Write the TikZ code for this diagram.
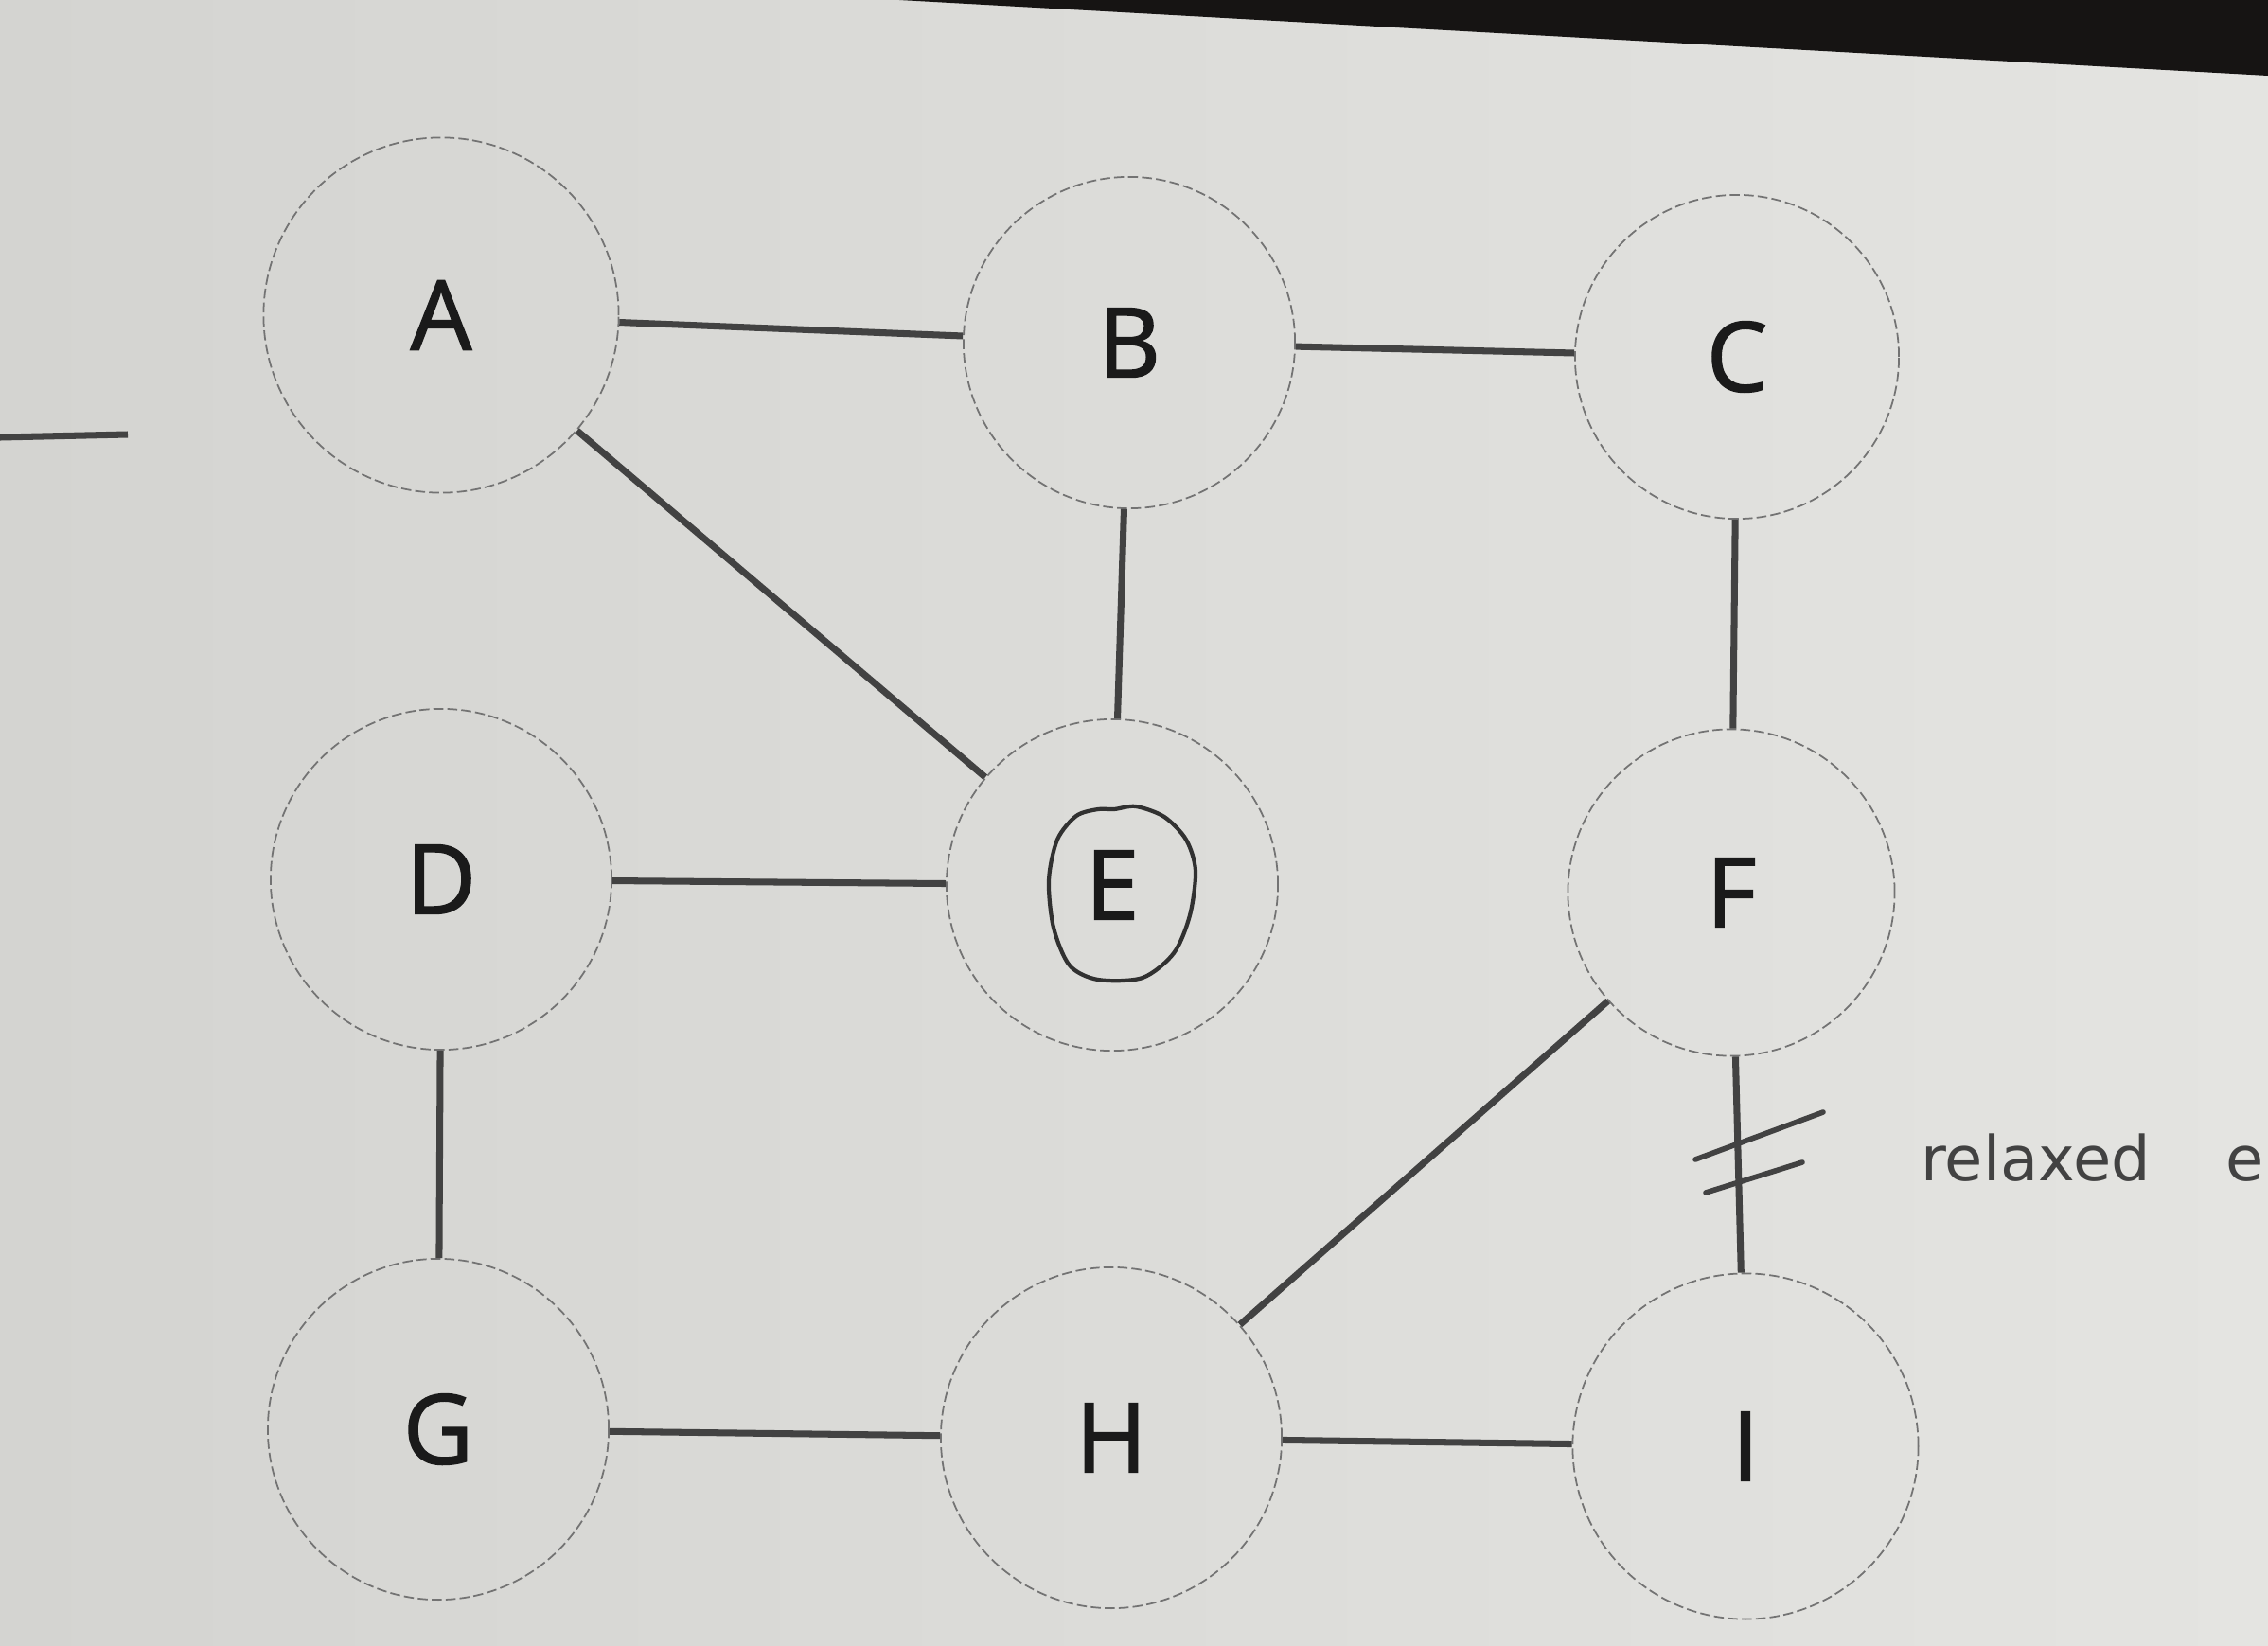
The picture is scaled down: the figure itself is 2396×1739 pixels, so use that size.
\documentclass[tikz,border=0pt]{standalone}
\usepackage{fontspec}
\setmainfont{Open Sans}
\newfontfamily\labelfont[FakeBold=1.6]{Open Sans}
\newfontfamily\handfont{DejaVu Sans}
\usetikzlibrary{arrows,calc}
\tikzset{>=latex}
\definecolor{paper}{RGB}{228,228,225}
\definecolor{paperdark}{RGB}{212,212,209}
\definecolor{pencil}{RGB}{66,66,66}
\definecolor{ink}{RGB}{26,26,26}
\definecolor{backdrop}{RGB}{22,20,19}
\tikzset{vertex/.style={draw=black!55, circle, dash pattern=on 3pt off 1.2pt, line width=0.5pt, minimum size=3.5cm, inner sep=0pt, text=ink, font=\labelfont\fontsize{29}{30}\selectfont}}
\tikzset{link/.style={draw=pencil, line width=2pt}}

\begin{document}
\begin{tikzpicture}[x=0.01cm, y=-0.01cm]
    \useasboundingbox (0,0) rectangle (2396,1739);
    \clip (0,0) rectangle (2396,1739);
    \shade [left color=paperdark, right color=paper] (0,0) rectangle (2396,1739);
    \fill [backdrop] (950,0) -- (2396,0) -- (2396,80) -- cycle;
    \node [vertex, minimum size=3.75cm](A) at (466,333) {A};
    \node [vertex](B) at (1193,362) {B};
    \node [vertex, minimum size=3.42cm](C) at (1835,377) {C};
    \node [vertex, minimum size=3.6cm](D) at (466,929) {D};
    \node [vertex](E) at (1175,935) {E};
    \node [vertex, minimum size=3.45cm](F) at (1829,943) {F};
    \node [vertex, minimum size=3.6cm](G) at (463,1510) {G};
    \node [vertex, minimum size=3.6cm](H) at (1174,1519) {H};
    \node [vertex, minimum size=3.65cm](I) at (1844,1528) {I};
    \draw [link] (A) -- (B);
    \draw [link] (B) -- (C);
    \draw [link] (A) -- (E);
    \draw [link] (B) -- (E);
    \draw [link] (D) -- (E);
    \draw [link] (C) -- (F);
    \draw [link] (D) -- (G);
    \draw [link] (F) -- (H);
    \draw [link] (F) -- (I);
    \draw [link] (G) -- (H);
    \draw [link] (H) -- (I);
    \coordinate (stubL) at (0,462);
    \coordinate (stubR) at (135,459);
    \draw [link] (stubL) -- (stubR);
    \draw [pencil, line width=1.6pt, line cap=round] (1791,1225) -- (1926,1175);
    \draw [pencil, line width=1.6pt, line cap=round] (1802,1260) -- (1904,1228);
    \draw [ink!90, line width=1.2pt] plot [smooth cycle] coordinates {(1177,855) (1200,852) (1230,863) (1253,887) (1263,920) (1257,967) (1240,1007) (1207,1033) (1160,1035) (1130,1020) (1113,980) (1108,930) (1117,887) (1137,862) (1160,855)};
    \node [anchor=base west, text=pencil, font=\handfont\fontsize{18.6}{20}\selectfont](note) at (2017,1247) {relaxed\hspace{0.8cm}e};
\end{tikzpicture}
\end{document}
